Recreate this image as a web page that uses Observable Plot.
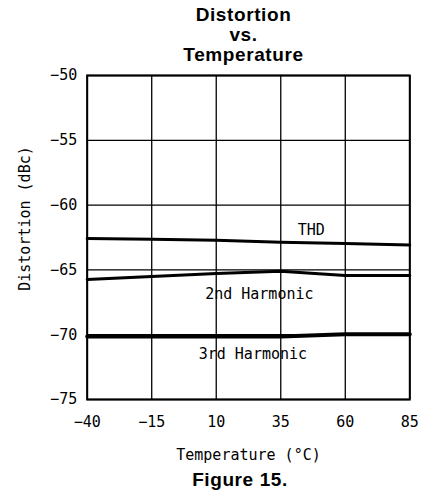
<!DOCTYPE html>
<html>
<head>
<meta charset="utf-8">
<script src="https://cdn.jsdelivr.net/npm/d3@7"></script>
<script src="https://cdn.jsdelivr.net/npm/@observablehq/plot@0.6"></script>
<style>
  html, body { margin: 0; padding: 0; background: #fff; }
  #wrap { position: relative; width: 421px; height: 491px; overflow: hidden; background: #fff; }
  .title { position: absolute; left: 0; width: 487px; top: 5px; text-align: center; z-index: 2;
           font: bold 19px "Liberation Sans", Arial, sans-serif; letter-spacing: 0.6px; line-height: 20px; color: #000; }
  .caption { position: absolute; left: 0; width: 480px; top: 470px; text-align: center; z-index: 2;
           font: bold 19px "Liberation Sans", Arial, sans-serif; letter-spacing: 0.6px; line-height: 20px; color: #000; }
  #chart { position: absolute; left: 0; top: 56px; z-index: 1; }
</style>
</head>
<body>
<div id="wrap">
  <div id="chart"></div>
  <div class="title">Distortion<br>vs.<br>Temperature</div>
  <div class="caption">Figure 15.</div>
</div>
<script>
const temperature = [-40, -15, 10, 35, 60, 85];
const thd         = [-62.57, -62.64, -62.72, -62.87, -62.97, -63.07];
const harmonic2   = [-65.74, -65.50, -65.27, -65.11, -65.44, -65.44];
const harmonic3   = [-70.13, -70.13, -70.13, -70.13, -69.97, -69.97];
const xTicks = [-40, -15, 10, 35, 60, 85];
const yTicks = [-75, -70, -65, -60, -55, -50];
const labelText = ["THD", "2nd Harmonic", "3rd Harmonic"];
const labelTemp = [46.8, 26.7, 24.2];
const labelValue = [-61.93, -66.87, -71.54];

const series = [
  {name: "THD", values: thd, w: 3},
  {name: "2nd Harmonic", values: harmonic2, w: 3},
  {name: "3rd Harmonic", values: harmonic3, w: 4}
];
const rows = series.flatMap(s => temperature.map((t, i) => ({series: s.name, t, v: s.values[i], w: s.w})));
const labels = labelText.map((text, i) => ({text, t: labelTemp[i], v: labelValue[i]}));

const mono = "'DejaVu Sans Mono', monospace";

const chart = Plot.plot({
  width: 421,
  height: 414,
  marginLeft: 86.7,
  marginRight: 11.7,
  marginTop: 19,
  marginBottom: 71,
  style: {fontFamily: mono, fontSize: "15px", color: "#000", background: "transparent"},
  x: {domain: [-40, 85], ticks: xTicks, label: null},
  y: {domain: [-75, -50], ticks: yTicks, label: null},
  marks: [
    Plot.gridX(xTicks, {stroke: "#000", strokeOpacity: 1, strokeWidth: 1.3}),
    Plot.gridY(yTicks, {stroke: "#000", strokeOpacity: 1, strokeWidth: 1.3}),
    Plot.axisX(xTicks, {tickSize: 0, tickPadding: 17, fontSize: 15, fontFamily: mono, label: null}),
    Plot.axisY(yTicks, {tickSize: 0, tickPadding: 10, fontSize: 15, fontFamily: mono, label: null}),
    ...series.map(s => Plot.line(rows.filter(r => r.series === s.name), {x: "t", y: "v", stroke: "#000", strokeWidth: s.w, strokeLinejoin: "round"})),
    Plot.text(labels, {x: "t", y: "v", text: "text", fontSize: 15, fontFamily: mono, fill: "#000"}),
    Plot.text(["Temperature (°C)"], {frameAnchor: "bottom", lineAnchor: "middle", textAnchor: "middle", dy: 56, fontSize: 15, fontFamily: mono, fill: "#000"}),
    Plot.text(["Distortion (dBc)"], {frameAnchor: "left", rotate: -90, textAnchor: "middle", lineAnchor: "middle", dx: -61.7, dy: -19, fontSize: 15, fontFamily: mono, fill: "#000"}),
    Plot.frame({stroke: "#000", strokeWidth: 2})
  ]
});
document.getElementById("chart").appendChild(chart);
</script>
</body>
</html>
